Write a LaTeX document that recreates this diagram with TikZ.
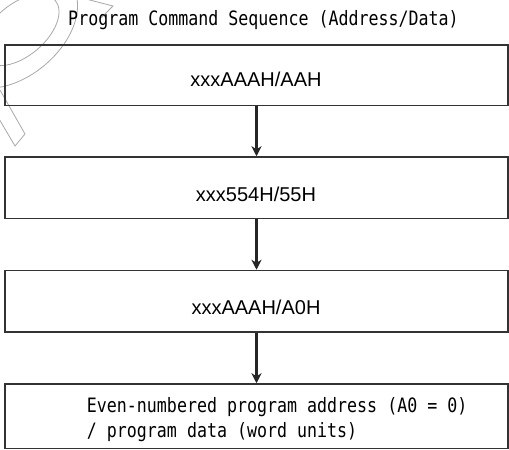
\documentclass[tikz,border=0pt]{standalone}
\usepackage{fontspec}
\setmainfont{Liberation Sans}
\newfontfamily\gothic[FakeStretch=0.84]{DejaVu Sans Mono}
\usetikzlibrary{arrows.meta}
\definecolor{boxline}{HTML}{333333}
\definecolor{wmark}{HTML}{A8A8A8}
\begin{document}
\begin{tikzpicture}[x=1pt,y=-1pt,
  stepbox/.style={draw=boxline,line width=1.5pt,rectangle,minimum width=503pt,inner sep=0pt},
  flowarrow/.style={draw=black!85,line width=2.6pt,-{Stealth[length=10pt,width=10pt,inset=3pt]}},
  addrtext/.style={font=\fontsize{20}{24}\selectfont,anchor=base,inner sep=0pt},
  gothictext/.style={font=\gothic\fontsize{19.8}{24.5}\selectfont,inner sep=0pt},
  wm/.style={draw=wmark,line width=0.8pt}]
\useasboundingbox (0,0) rectangle (509,450);
% faint watermark
\begin{scope}
\clip (0,0) rectangle (509,450);
\draw[wm,rotate around={40:(20,30)}] (20,30) ellipse [x radius=46, y radius=26];
\draw[wm,rotate around={40:(15,30)}] (15,30) ellipse [x radius=72, y radius=46];
\draw[wm] (0,90) -- (25,134) -- (15,146) -- (-5,112);
\draw[wm] (82,-2) -- (113,6) -- (101,18);
\end{scope}
% title
\node[gothictext,anchor=base] (title) at (263.5,25.5) {Program Command Sequence (Address/Data)};
% boxes
\node[stepbox,minimum height=60.5pt] (b1) at (256.5,75.25) {};
\node[stepbox,minimum height=61.5pt] (b2) at (256.5,187.75) {};
\node[stepbox,minimum height=61.5pt] (b3) at (256.5,301.25) {};
\node[stepbox,minimum height=64.5pt] (b4) at (256.5,416.25) {};
% texts
\node[addrtext] (t1) at (256,86.7) {xxxAAAH/AAH};
\node[addrtext] (t2) at (256,201.7) {xxx554H/55H};
\node[addrtext] (t3) at (256,314) {xxxAAAH/A0H};
\node[gothictext,anchor=base west] (t4a) at (86.7,412) {Even-numbered program address (A0 = 0)};
\node[gothictext,anchor=base west] (t4b) at (86.7,437) {/ program data (word units)};
% arrows
\draw[flowarrow] (b1.south) -- (b2.north);
\draw[flowarrow] (b2.south) -- (b3.north);
\draw[flowarrow] (b3.south) -- (b4.north);
\end{tikzpicture}
\end{document}
